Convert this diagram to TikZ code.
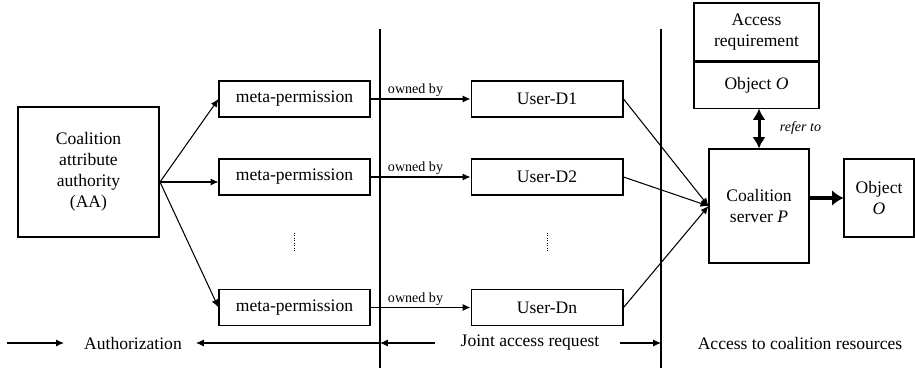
\documentclass[tikz,border=0pt]{standalone}
\usepackage{fontspec}
\setmainfont{Liberation Serif}
\usepackage{tikz}
\usetikzlibrary{positioning, arrows.meta, calc}
\tikzstyle{arrow} = [semithick,-{Latex[length=4.5pt,width=4pt]}]
\tikzstyle{bigarrow} = [line width=2.2pt,-{Latex[length=6.5pt,width=9pt]}]
\tikzstyle{dblarrow} = [line width=1.7pt,{Latex[length=6.5pt,width=7.5pt]}-{Latex[length=6.5pt,width=7.5pt]}]

\begin{document}
\begin{tikzpicture}[
    x=0.02cm, y=-0.02cm,
    every node/.style={font=\fontsize{10}{12}\selectfont},
    box/.style={draw, semithick, align=center, inner sep=0pt},
    permbox/.style={box, minimum width=3.02cm, minimum height=0.72cm},
    userbox/.style={box, minimum width=3.04cm, minimum height=0.72cm},
    small/.style={font=\fontsize{8}{9.6}\selectfont, inner sep=1pt},
    sep/.style={line width=1.1pt}
  ]
  \useasboundingbox (0,0) rectangle (915,371);

  \node[box, minimum width=2.82cm, minimum height=2.6cm] (aa) at (88.5,172) {Coalition\\attribute\\authority\\(AA)};
  \coordinate (fan) at (160,182);

  \node[permbox] (meta1) at (294.5,99) {meta-permission};
  \node[permbox] (meta2) at (294.5,177) {meta-permission};
  \node[permbox] (metan) at (294.5,307.5) {meta-permission};

  \node[userbox, right=2cm of meta1] (user1) {User-D1};
  \node[userbox, right=2cm of meta2] (user2) {User-D2};
  \node[userbox, right=2cm of metan] (usern) {User-Dn};

  \node[box, minimum width=2.5cm, minimum height=1.16cm] (req) at (756.5,32) {Access\\requirement};
  \node[box, minimum width=2.5cm, minimum height=0.92cm, below=0pt of req] (objreq) {Object \textit{O}};
  \node[box, minimum width=2cm, minimum height=2.28cm] (server) at (759,206) {Coalition\\server \textit{P}};
  \node[box, minimum width=1.4cm, minimum height=1.56cm] (obj) at (879,198) {Object\\\textit{O}};

  % separators
  \coordinate (s1top) at (380,29);
  \coordinate (s1bot) at (380,368);
  \coordinate (s2top) at (661,29);
  \coordinate (s2bot) at (661,368);
  \draw[sep] (s1top) -- (s1bot);
  \draw[sep] (s2top) -- (s2bot);

  \draw[arrow] (fan) -- (meta1.west);
  \draw[arrow] (fan) -- (fan -| meta2.west);
  \draw[arrow] (fan) -- (metan.west);

  \foreach \i in {1,2,n} {
    \draw[arrow] (meta\i) -- node[small, above, pos=0.45] {owned by} (user\i);
    \draw[arrow] (user\i.east) -- (server.west);
  }

  \draw[densely dotted] ($(meta2.south)!0.4!(metan.north)$) -- ($(meta2.south)!0.6!(metan.north)$);
  \draw[densely dotted] ($(user2.south)!0.4!(usern.north)$) -- ($(user2.south)!0.6!(usern.north)$);

  \draw[dblarrow] (objreq.south -| server.north) -- node[small, right=10pt, font=\fontsize{8}{9.6}\selectfont\itshape] {refer to} (server.north);
  \draw[bigarrow] (server.east |- obj.west) -- (obj.west);

  % bottom row
  \node (auth) at (133,343) {Authorization};
  \node (joint) at (530,343) {Joint access request};
  \node (coal) at (800,343) {Access to coalition resources};
  \coordinate (lstart) at (7,343);
  \coordinate (s1mid) at (s1top |- auth);
  \coordinate (s2mid) at (s2top |- auth);
  \draw[arrow, shorten >=8pt] (lstart) -- (auth.west);
  \draw[arrow, shorten >=4.5pt] (s1mid) -- (auth.east);
  \draw[arrow, shorten <=11pt] (joint.west) -- (s1mid);
  \draw[arrow, shorten <=8pt] (joint.east) -- (s2mid);

\end{tikzpicture}
\end{document}
